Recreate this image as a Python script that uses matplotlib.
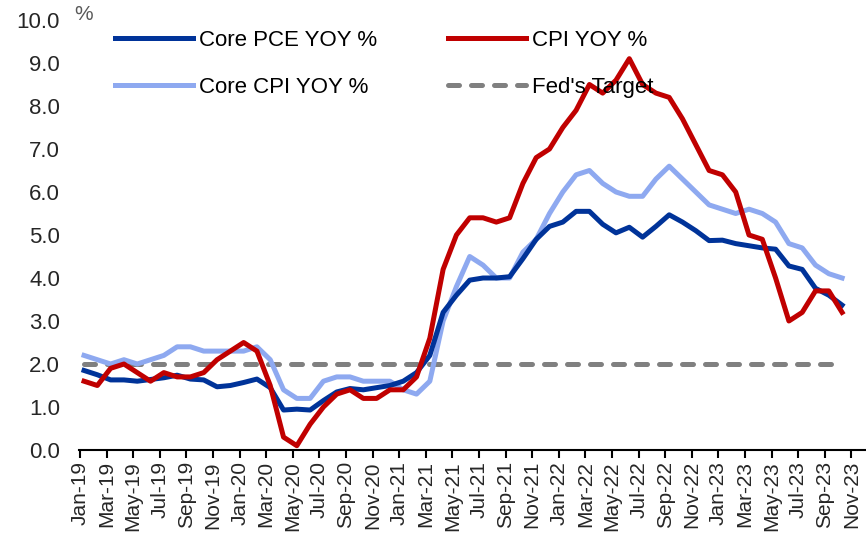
import numpy as np
import matplotlib.pyplot as plt

plt.rcParams['font.family'] = ['Liberation Sans', 'DejaVu Sans']

# monthly data Jan-19 .. Oct-23
months = ['Jan', 'Feb', 'Mar', 'Apr', 'May', 'Jun', 'Jul', 'Aug', 'Sep', 'Oct', 'Nov', 'Dec']
years = ['19', '20', '21', '22', '23']
labels = [m + '-' + y for y in years for m in months][:59]  # up to Nov-23

core_pce = [1.85, 1.75, 1.63, 1.63, 1.6, 1.64, 1.68, 1.74, 1.65, 1.63, 1.47, 1.5,
            1.57, 1.65, 1.45, 0.93, 0.95, 0.93, 1.15, 1.35, 1.43, 1.4, 1.45, 1.5,
            1.6, 1.8, 2.2, 3.2, 3.6, 3.95, 4.0, 4.0, 4.03, 4.45, 4.9, 5.2,
            5.3, 5.55, 5.55, 5.25, 5.05, 5.18, 4.95, 5.2, 5.47, 5.3, 5.1, 4.87,
            4.88, 4.8, 4.75, 4.7, 4.67, 4.28, 4.2, 3.76, 3.6, 3.37]
cpi = [1.6, 1.5, 1.9, 2.0, 1.8, 1.6, 1.8, 1.7, 1.7, 1.8, 2.1, 2.3,
       2.5, 2.3, 1.5, 0.3, 0.1, 0.6, 1.0, 1.3, 1.4, 1.2, 1.2, 1.4,
       1.4, 1.7, 2.6, 4.2, 5.0, 5.4, 5.4, 5.3, 5.4, 6.2, 6.8, 7.0,
       7.5, 7.9, 8.5, 8.3, 8.6, 9.1, 8.5, 8.3, 8.2, 7.7, 7.1, 6.5,
       6.4, 6.0, 5.0, 4.9, 4.0, 3.0, 3.2, 3.7, 3.7, 3.2]
core_cpi = [2.2, 2.1, 2.0, 2.1, 2.0, 2.1, 2.2, 2.4, 2.4, 2.3, 2.3, 2.3,
            2.3, 2.4, 2.1, 1.4, 1.2, 1.2, 1.6, 1.7, 1.7, 1.6, 1.6, 1.6,
            1.4, 1.3, 1.6, 3.0, 3.8, 4.5, 4.3, 4.0, 4.0, 4.6, 4.9, 5.5,
            6.0, 6.4, 6.5, 6.2, 6.0, 5.9, 5.9, 6.3, 6.6, 6.3, 6.0, 5.7,
            5.6, 5.5, 5.6, 5.5, 5.3, 4.8, 4.7, 4.3, 4.1, 4.0]
fed_target = [2.0] * len(cpi)

x = np.arange(len(cpi)) + 0.3
fig = plt.figure(figsize=(8.66, 5.33), dpi=100)
ax = fig.add_axes([0.0909, 0.1557, 0.9076, 0.8068])

l1, = ax.plot(x, core_pce, color='#003399', lw=3.6, label='Core PCE YOY %')
l3, = ax.plot(x, core_cpi, color='#8EA9F0', lw=3.6, label='Core CPI YOY %')
l2, = ax.plot(x, cpi, color='#C00000', lw=3.6, label='CPI YOY %')
l4, = ax.plot(x, fed_target, color='#808080', lw=3.6, dash_capstyle='round',
              linestyle=(0, (2.2, 2.4)), label="Fed's Target", zorder=1)
l3.set_zorder(2); l1.set_zorder(3); l2.set_zorder(4)

ax.set_ylim(0, 10)
ax.set_xlim(-0.1, 59)
ax.set_yticks(np.arange(0, 11, 1))
ax.set_yticklabels(['%.1f' % v for v in np.arange(0, 11, 1)])
ax.set_xticks(np.arange(0, 59, 2))
ax.set_xticklabels(labels[::2], rotation=90)
ax.tick_params(axis='y', length=0, pad=13.5, labelsize=16, labelcolor='#262626')
ax.tick_params(axis='x', length=6, width=1.5, direction='out', labelsize=15,
               labelcolor='#262626', pad=2)
for s in ['left', 'right', 'top']:
    ax.spines[s].set_visible(False)
ax.spines['bottom'].set_linewidth(1.5)

fig.text(74 / 866, 1 - 14 / 533, '%', fontsize=15, color='#595959', va='center')

ax.legend(handles=[l1, l3, l2, l4], ncol=2, loc='upper left', frameon=False,
          bbox_to_anchor=(115 / 866, 1 - 30 / 533), bbox_transform=fig.transFigure,
          borderpad=0, borderaxespad=0, fontsize=16, handlelength=3.5,
          handletextpad=0.27, columnspacing=3.2, labelspacing=1.17)

fig.savefig('out.png', dpi=100)
